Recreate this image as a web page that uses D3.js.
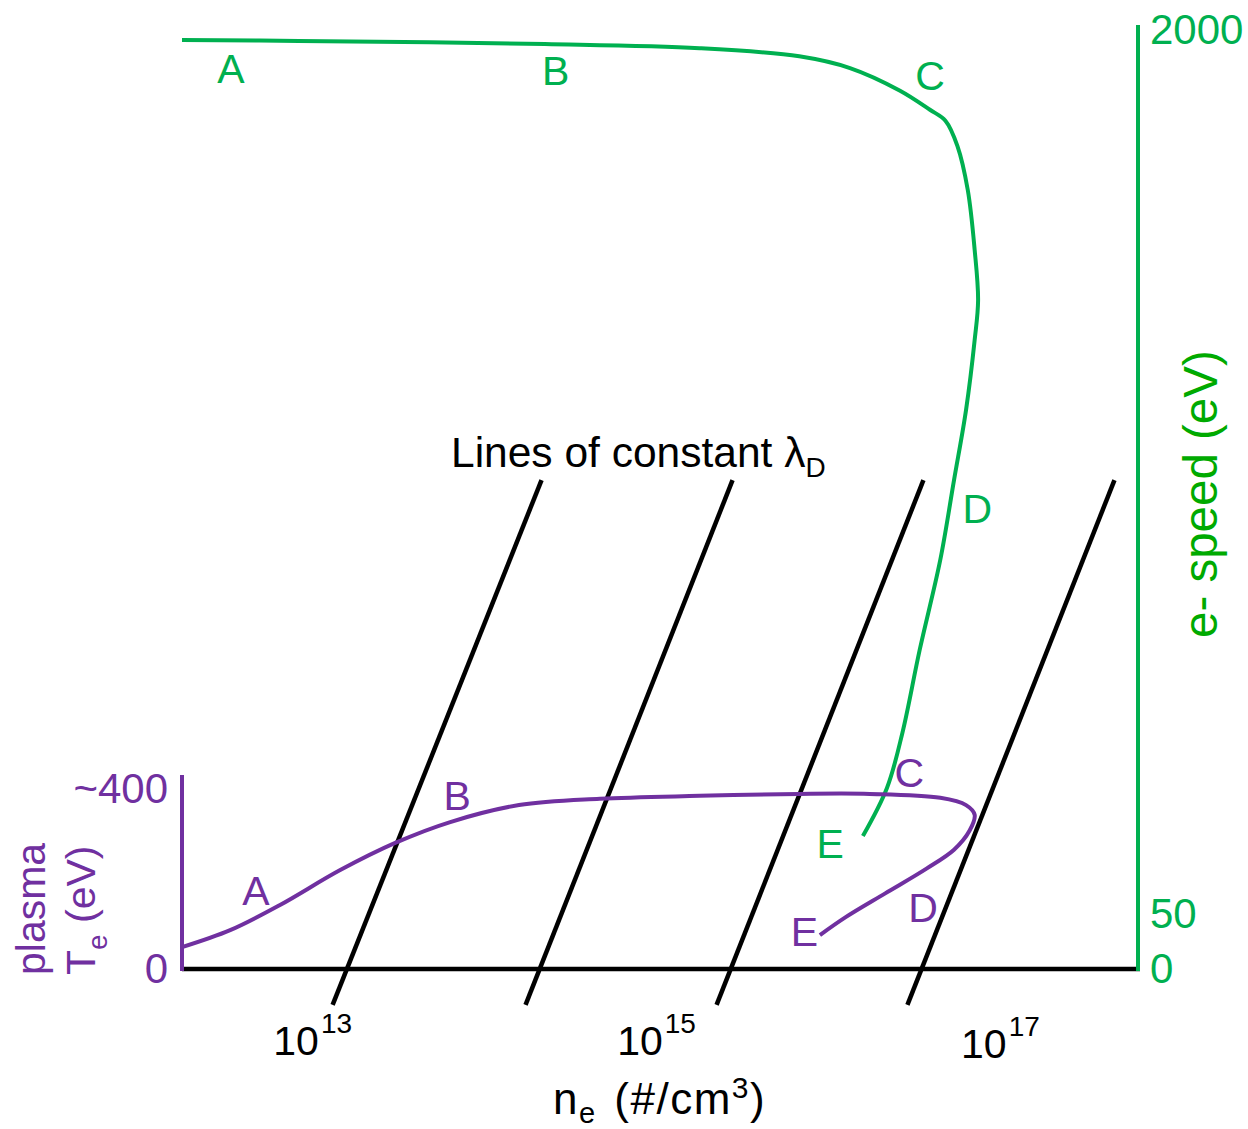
<!DOCTYPE html>
<html>
<head>
<meta charset="utf-8">
<script src="https://cdn.jsdelivr.net/npm/d3@7"></script>
<style>
  html, body { margin: 0; padding: 0; background: #fff; }
  svg { display: block; font-family: "Liberation Sans", Arial, Helvetica, sans-serif; }
</style>
</head>
<body>
<svg width="1248" height="1129"></svg>
<script>
"use strict"

// x = показатель степени плотности n_e (10^x)
const xTicks = [13, 15, 17]
const tempTicks = [0, 400]
const tempTickLabels = ["0", "~400"]
const speedTicks = [0, 50, 2000]
const speedTickLabels = ["0", "50", "2000"]

// кривая температуры плазмы [lg n_e, Te (эВ)]
const tempCurve = [
    [12.24, 45], [12.52, 80], [12.81, 132], [13.16, 204], [13.48, 260],
    [13.80, 303], [14.20, 338], [14.67, 351], [15.25, 357], [15.83, 361],
    [16.24, 361], [16.65, 353], [16.80, 338], [16.85, 318], [16.82, 285],
    [16.73, 246], [16.57, 207], [16.33, 156], [16.10, 107], [15.95, 70]
]

// кривая скорости электронов [lg n_e, эВ]
const speedCurve = [
    [12.24, 1978], [12.92, 1976], [14.35, 1969], [15.25, 1960], [15.83, 1942],
    [16.125, 1916], [16.416, 1866], [16.59, 1824], [16.68, 1800], [16.75, 1744],
    [16.81, 1647], [16.85, 1515], [16.87, 1404], [16.85, 1316], [16.80, 1162],
    [16.73, 1007], [16.65, 831], [16.53, 632], [16.43, 450], [16.34, 328],
    [16.20, 222]
]

// линии постоянного λD: [lg n_e внизу, lg n_e вверху], по Te от -74 до 1008
const debyeLines = [[13.116, 14.331], [14.238, 15.442], [15.349, 16.552], [16.459, 17.663]]
const debyeTe = [-74, 1008]

const tempLabels = [
    {t: "A", x: 12.67, y: 132}, {t: "B", x: 13.84, y: 328}, {t: "C", x: 16.47, y: 375},
    {t: "D", x: 16.55, y: 97}, {t: "E", x: 15.86, y: 47}
]
const speedLabels = [
    {t: "A", x: 12.525, y: 1883}, {t: "B", x: 14.413, y: 1879}, {t: "C", x: 16.59, y: 1868},
    {t: "D", x: 16.865, y: 912}, {t: "E", x: 16.01, y: 174}
]

const purple = "#7030a0"
const green = "#00b050"

const svg = d3.select("svg")

const area = { left: 182, right: 1138, bottom: 969 }

const scX = d3.scaleLinear().domain([12.24, 17.8]).range([area.left, area.right])
const scT = d3.scaleLinear().domain([0, 400]).range([area.bottom, 775])
// ось скорости разорвана: 0..50 внизу, 50..2000 выше
const scS = d3.scaleLinear().domain(speedTicks).range([area.bottom, 914, 30])

// линии постоянного λD
svg.append("g").selectAll("line")
    .data(debyeLines)
    .enter()
    .append("line")
    .attr("x1", d => scX(d[0]))
    .attr("y1", scT(debyeTe[0]))
    .attr("x2", d => scX(d[1]))
    .attr("y2", scT(debyeTe[1]))
    .style("stroke", "#000")
    .style("stroke-width", 4.5)

svg.append("text")
    .attr("x", 451)
    .attr("y", 467)
    .style("font-size", "42.5px")
    .text("Lines of constant λ")
    .append("tspan")
    .attr("dy", 10)
    .style("font-size", "28px")
    .text("D")

// оси
svg.append("line")
    .attr("x1", scX.range()[0]).attr("x2", scX.range()[1] + 2)
    .attr("y1", area.bottom).attr("y2", area.bottom)
    .style("stroke", "#000").style("stroke-width", 4.5)

svg.append("line")
    .attr("x1", area.left).attr("x2", area.left)
    .attr("y1", scT(400)).attr("y2", area.bottom + 2)
    .style("stroke", purple).style("stroke-width", 4)

svg.append("line")
    .attr("x1", area.right).attr("x2", area.right)
    .attr("y1", scS(2000) - 5).attr("y2", area.bottom + 2)
    .style("stroke", green).style("stroke-width", 4)

// подписи оси X
const xt = svg.append("g").selectAll("text")
    .data(xTicks)
    .enter()
    .append("text")
    .attr("x", d => scX(d))
    .attr("y", d => d == 17 ? 1058 : 1055)
    .style("text-anchor", "middle")
    .style("font-size", "41px")
xt.append("tspan").text("10")
xt.append("tspan").attr("dx", 2).attr("dy", -22).style("font-size", "28px").text(d => d)

const xl = svg.append("text")
    .attr("x", 553)
    .attr("y", 1114)
    .style("font-size", "44px")
    .style("letter-spacing", "1.5px")
xl.append("tspan").text("n")
xl.append("tspan").attr("dy", 9).style("font-size", "29px").text("e")
xl.append("tspan").attr("dy", -9).attr("dx", 4).text(" (#/cm")
xl.append("tspan").attr("dy", -16).style("font-size", "30px").text("3")
xl.append("tspan").attr("dy", 16).text(")")

// подписи оси температуры
svg.append("g").selectAll("text")
    .data(tempTicks)
    .enter()
    .append("text")
    .attr("x", 168)
    .attr("y", d => scT(d) + (d == 0 ? 14 : 28))
    .style("text-anchor", "end")
    .style("font-size", "42px")
    .style("fill", purple)
    .text((d, i) => tempTickLabels[i])

svg.append("text")
    .attr("transform", "translate(45, 975) rotate(-90)")
    .style("font-size", "41px")
    .style("fill", purple)
    .text("plasma")

const tl = svg.append("text")
    .attr("transform", "translate(95, 975) rotate(-90)")
    .style("font-size", "41px")
    .style("fill", purple)
tl.append("tspan").text("T")
tl.append("tspan").attr("dy", 12).style("font-size", "28px").text("e")
tl.append("tspan").attr("dy", -12).text(" (eV)")

// подписи оси скорости
svg.append("g").selectAll("text")
    .data(speedTicks)
    .enter()
    .append("text")
    .attr("x", 1150)
    .attr("y", d => scS(d) + 14)
    .style("font-size", "42px")
    .style("fill", green)
    .text((d, i) => speedTickLabels[i])

svg.append("text")
    .attr("transform", "translate(1217, 638) rotate(-90)")
    .style("font-size", "47.5px")
    .style("fill", "#00aa00")
    .text("e- speed (eV)")

// кривые
const lineT = d3.line()
    .x(d => scX(d[0]))
    .y(d => scT(d[1]))
    .curve(d3.curveCatmullRom.alpha(0.5))

const lineS = d3.line()
    .x(d => scX(d[0]))
    .y(d => scS(d[1]))
    .curve(d3.curveCatmullRom.alpha(0.5))

svg.append("path")
    .datum(speedCurve)
    .attr("d", lineS)
    .style("fill", "none")
    .style("stroke", green)
    .style("stroke-width", 4)

svg.append("path")
    .datum(tempCurve)
    .attr("d", lineT)
    .style("fill", "none")
    .style("stroke", purple)
    .style("stroke-width", 4)

// буквы на кривых
svg.append("g").selectAll("text")
    .data(tempLabels)
    .enter()
    .append("text")
    .attr("x", d => scX(d.x))
    .attr("y", d => scT(d.y))
    .style("text-anchor", "middle")
    .style("font-size", "41px")
    .style("fill", purple)
    .text(d => d.t)

svg.append("g").selectAll("text")
    .data(speedLabels)
    .enter()
    .append("text")
    .attr("x", d => scX(d.x))
    .attr("y", d => scS(d.y))
    .style("text-anchor", "middle")
    .style("font-size", "41px")
    .style("fill", green)
    .text(d => d.t)
</script>
</body>
</html>
